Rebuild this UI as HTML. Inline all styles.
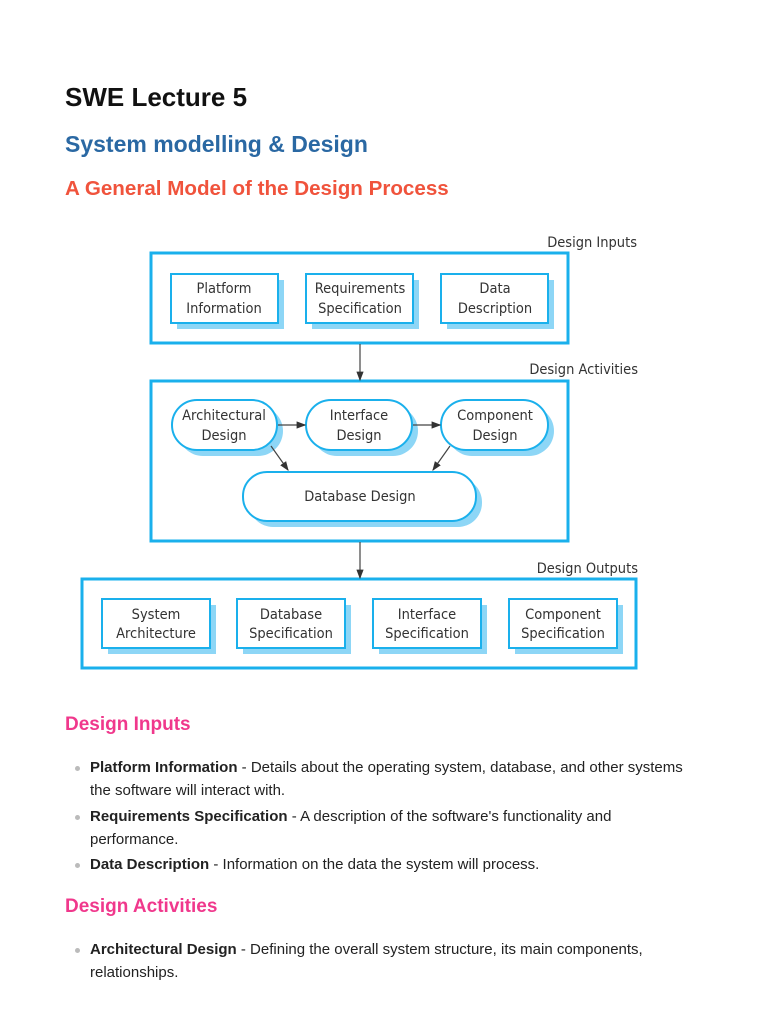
<!DOCTYPE html>
<html><head><meta charset="utf-8"><style>
body{margin:0;width:768px;height:1024px;background:#fff;font-family:"Liberation Sans",sans-serif;position:relative;overflow:hidden}
.t{position:absolute;left:65px;white-space:nowrap}
.b{position:absolute;left:90px;font-size:15px;color:#222;line-height:23px;width:600px}
.b:before{content:"";position:absolute;left:-15px;top:10px;width:5px;height:5px;border-radius:50%;background:#bbb}
svg text{font-family:"DejaVu Sans Condensed","DejaVu Sans","Liberation Sans",sans-serif;font-size:14.5px;fill:#333;text-anchor:middle}
</style></head><body>
<div class="t" style="top:82px;font-size:26px;color:#111;font-weight:bold">SWE Lecture 5</div>
<div class="t" style="top:131px;font-size:23px;color:#2a68a3;font-weight:bold">System modelling &amp; Design</div>
<div class="t" style="top:177px;font-size:20.6px;color:#f0533c;font-weight:bold">A General Model of the Design Process</div>
<svg style="position:absolute;left:0;top:0" width="768" height="700">
<defs><marker id="a" markerWidth="8" markerHeight="8" refX="7" refY="4" orient="auto"><path d="M0,1 L8,4 L0,7z" fill="#333"/></marker></defs>
<g fill="none" stroke="#1ab0ec" stroke-width="3">
<rect x="151" y="253" width="417" height="90"/>
<rect x="151" y="381" width="417" height="160"/>
<rect x="82" y="579" width="554" height="89"/>
</g>
<g fill="#8dd6f6">
<rect x="177" y="280" width="107" height="49"/><rect x="312" y="280" width="107" height="49"/><rect x="447" y="280" width="107" height="49"/>
<rect x="108" y="605" width="108" height="49"/><rect x="243" y="605" width="108" height="49"/><rect x="379" y="605" width="108" height="49"/><rect x="515" y="605" width="108" height="49"/>
<rect x="178" y="406" width="105" height="50" rx="25"/><rect x="312" y="406" width="106" height="50" rx="25"/><rect x="447" y="406" width="107" height="50" rx="25"/>
<rect x="249" y="478" width="233" height="49" rx="24"/>
</g>
<g fill="#fff" stroke="#1ab0ec" stroke-width="2">
<rect x="171" y="274" width="107" height="49"/><rect x="306" y="274" width="107" height="49"/><rect x="441" y="274" width="107" height="49"/>
<rect x="102" y="599" width="108" height="49"/><rect x="237" y="599" width="108" height="49"/><rect x="373" y="599" width="108" height="49"/><rect x="509" y="599" width="108" height="49"/>
<rect x="172" y="400" width="105" height="50" rx="25"/><rect x="306" y="400" width="106" height="50" rx="25"/><rect x="441" y="400" width="107" height="50" rx="25"/>
<rect x="243" y="472" width="233" height="49" rx="24"/>
</g>
<g stroke="#444" stroke-width="1.2" marker-end="url(#a)">
<line x1="360" y1="344" x2="360" y2="380"/>
<line x1="360" y1="542" x2="360" y2="578"/>
<line x1="278" y1="425" x2="305" y2="425"/>
<line x1="413" y1="425" x2="440" y2="425"/>
<line x1="271" y1="446" x2="288" y2="470"/>
<line x1="450" y1="446" x2="433" y2="470"/>
</g>
<text x="637" y="247" style="text-anchor:end">Design Inputs</text>
<text x="638" y="374" style="text-anchor:end">Design Activities</text>
<text x="638" y="573" style="text-anchor:end">Design Outputs</text>
<text x="224" y="293">Platform</text><text x="224" y="313">Information</text>
<text x="360" y="293">Requirements</text><text x="360" y="313">Specification</text>
<text x="495" y="293">Data</text><text x="495" y="313">Description</text>
<text x="224" y="420">Architectural</text><text x="224" y="440">Design</text>
<text x="359" y="420">Interface</text><text x="359" y="440">Design</text>
<text x="495" y="420">Component</text><text x="495" y="440">Design</text>
<text x="360" y="501">Database Design</text>
<text x="156" y="619">System</text><text x="156" y="638">Architecture</text>
<text x="291" y="619">Database</text><text x="291" y="638">Specification</text>
<text x="427" y="619">Interface</text><text x="427" y="638">Specification</text>
<text x="563" y="619">Component</text><text x="563" y="638">Specification</text>
</svg>
<div class="t" style="top:714px;font-size:19px;color:#f0388c;font-weight:bold">Design Inputs</div>
<div class="b" style="top:756px"><b>Platform Information</b> - Details about the operating system, database, and other systems the software will interact with.</div>
<div class="b" style="top:805px"><b>Requirements Specification</b> - A description of the software's functionality and performance.</div>
<div class="b" style="top:853px"><b>Data Description</b> - Information on the data the system will process.</div>
<div class="t" style="top:896px;font-size:19px;color:#f0388c;font-weight:bold">Design Activities</div>
<div class="b" style="top:938px"><b>Architectural Design</b> - Defining the overall system structure, its main components, relationships.</div>
</body></html>
